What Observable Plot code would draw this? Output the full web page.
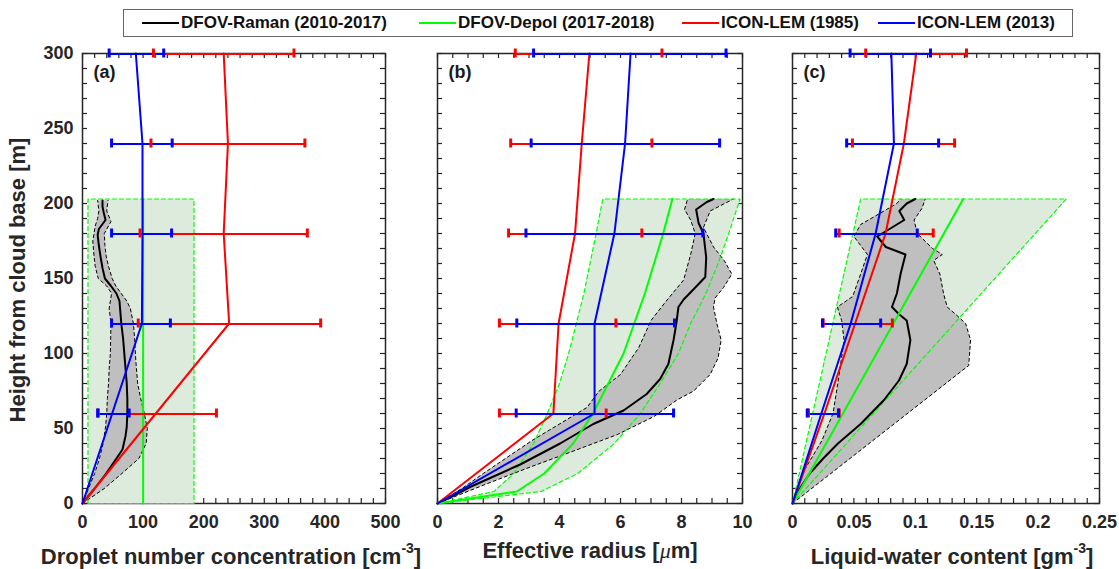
<!DOCTYPE html>
<html>
<head>
<meta charset="utf-8">
<script src="https://cdn.jsdelivr.net/npm/d3@7"></script>
<script src="https://cdn.jsdelivr.net/npm/@observablehq/plot@0.6"></script>
<style>
  body { margin: 0; background: #fff; }
  #fig { position: relative; width: 1119px; height: 569px; overflow: hidden;
         font-family: "Liberation Sans", Arial, Helvetica, sans-serif; font-weight: bold; color: #262626; }
  .legend { position: absolute; left: 123px; top: 9px; width: 950px; height: 28px; box-sizing: border-box;
            border: 1px solid #666; background: #fff; }
  .item { position: absolute; top: 0; height: 26px; display: flex; align-items: center;
          font-size: 17px; color: #111; white-space: nowrap; }
  .swatch { display: inline-block; width: 37px; height: 2px; margin-right: 2px; }
  .panel { position: absolute; top: 45px; }
  .xlabel { position: absolute; top: 538px; font-size: 22px; line-height: 26px; white-space: nowrap;
            transform: translateX(-50%); }
  .xlabel sup { font-size: 14px; position: relative; top: -3px; }
  .ylabel { position: absolute; left: 18px; top: 280px; font-size: 22px; white-space: nowrap;
            transform: translate(-50%, -50%) rotate(-90deg); }
</style>
</head>
<body>
<div id="fig">
  <div class="legend" id="legend"></div>
  <div class="panel" id="pa" style="left:0px"></div>
  <div class="panel" id="pb" style="left:420px"></div>
  <div class="panel" id="pc" style="left:770px"></div>
  <div class="ylabel">Height from cloud base [m]</div>
  <div class="xlabel" style="left:231px">Droplet number concentration [cm<sup>-3</sup>]</div>
  <div class="xlabel" style="left:590px">Effective radius [<i style="font-weight:normal;font-family:'Liberation Serif',serif">μ</i>m]</div>
  <div class="xlabel" style="left:952px">Liquid-water content [gm<sup>-3</sup>]</div>
</div>
<script>
// ---- Series names and colours ----
const seriesNames = ["DFOV-Raman (2010-2017)", "DFOV-Depol (2017-2018)", "ICON-LEM (1985)", "ICON-LEM (2013)"];
const seriesColors = ["#000000", "#00ff00", "#ff0000", "#0000ff"];
const legendLeft = [18, 295, 558, 754];

// ---- Axis ticks ----
const heightTicks = [0, 50, 100, 150, 200, 250, 300];
const ndTicks = [0, 100, 200, 300, 400, 500];
const reTicks = [0, 2, 4, 6, 8, 10];
const lwcTicks = [0, 0.05, 0.1, 0.15, 0.2, 0.25];

// ---- ICON-LEM model profiles (heights above cloud base, m) ----
const modelHeights = [0, 60, 120, 180, 240, 300];
const barHeights = [60, 120, 180, 240, 300];

const nd1985 = [0, 121, 242, 233, 240, 233];
const nd2013 = [0, 49, 98, 99, 99, 88];
const nd1985Lo = [26, 92, 95, 113, 117];
const nd1985Hi = [221, 393, 371, 367, 349];
const nd2013Lo = [25, 48, 48, 48, 44];
const nd2013Hi = [77, 145, 147, 148, 134];

const re1985 = [0, 3.8, 3.97, 4.51, 4.73, 4.98];
const re2013 = [0, 5.15, 5.15, 5.8, 6.15, 6.33];
const re1985Lo = [2.03, 2.03, 2.33, 2.4, 2.55];
const re1985Hi = [5.53, 5.85, 6.7, 7.03, 7.36];
const re2013Lo = [2.58, 2.6, 2.9, 3.07, 3.15];
const re2013Hi = [7.74, 7.77, 8.7, 9.25, 9.46];

const lwc1985 = [0, 0.026, 0.051, 0.0758, 0.0907, 0.1008];
const lwc2013 = [0, 0.0235, 0.0474, 0.0677, 0.0826, 0.0805];
const lwc1985Lo = [0.013, 0.025, 0.038, 0.0488, 0.0596];
const lwc1985Hi = [0.038, 0.0813, 0.1146, 0.132, 0.1417];
const lwc2013Lo = [0.012, 0.0244, 0.0352, 0.0441, 0.0469];
const lwc2013Hi = [0.0375, 0.0718, 0.1016, 0.119, 0.1124];

// ---- DFOV-Raman observations: mean and spread ----
const ndMeanH = [0, 10, 20, 30, 36, 45, 51, 60, 70, 80, 95, 110, 120, 135, 140, 145, 150, 157, 164, 172, 179, 183, 189, 194, 198, 202];
const ndMean  = [0, 20, 39, 56, 66, 71, 73, 74, 74, 73, 70, 67, 64, 61, 56, 47, 37, 33, 30, 27, 25, 27, 38, 35, 33, 33];
const ndLoH = [0, 10, 20, 30, 40, 51, 60, 70, 80, 90, 100, 120, 130, 135, 140, 145, 150, 158, 165, 175, 185, 190, 195, 202];
const ndLo  = [0, 10, 20, 28, 34, 38, 40, 41, 43, 44, 46, 47, 44, 46, 48, 40, 26, 21, 19, 17, 21, 25, 27, 25];
const ndHiH = [0, 10, 20, 30, 40, 50, 60, 70, 80, 95, 110, 120, 130, 135, 140, 145, 150, 158, 165, 172, 180, 188, 195, 202];
const ndHi  = [0, 36, 65, 93, 105, 107, 102, 96, 91, 88, 86, 84, 79, 73, 64, 55, 49, 43, 39, 37, 36, 47, 40, 42];

const reMeanH = [0, 5, 11, 26, 40, 53, 62, 73, 83, 93, 109, 120, 131, 136, 145, 151, 164, 180, 187, 196, 201, 203];
const reMean  = [0, 0.5, 1.07, 2.71, 4.02, 5.11, 6.10, 6.86, 7.30, 7.57, 7.74, 7.83, 7.90, 8.07, 8.50, 8.78, 8.81, 8.72, 8.56, 8.48, 8.83, 9.05];
const reLoH = [0, 10, 20, 31, 42, 53, 64, 75, 86, 95, 104, 113, 122, 135, 149, 166, 180, 189, 196, 203];
const reLo  = [0, 0.8, 1.5, 2.3, 3.1, 4.0, 4.9, 5.3, 6.0, 6.3, 6.6, 6.8, 7.0, 7.5, 8.07, 8.3, 8.45, 8.3, 8.1, 8.2];
const reHiH = [0, 13, 24, 35, 46, 58, 69, 75, 86, 97, 109, 120, 131, 137, 144, 153, 162, 171, 184, 195, 203];
const reHi  = [0, 1.6, 3.0, 4.46, 5.9, 7.1, 7.85, 8.4, 8.94, 9.2, 9.3, 9.16, 9.05, 9.1, 9.38, 9.65, 9.4, 9.05, 8.72, 8.94, 9.7];

const lwcMeanH = [0, 10, 20, 30, 40, 53, 69, 82, 93, 109, 122, 126, 131, 140, 153, 166, 171, 178, 182, 189, 195, 200, 203];
const lwcMean  = [0, 0.006, 0.014, 0.025, 0.037, 0.0555, 0.0745, 0.0867, 0.093, 0.096, 0.093, 0.087, 0.081, 0.085, 0.088, 0.092, 0.076, 0.069, 0.077, 0.091, 0.087, 0.093, 0.1];
const lwcLoH = [0, 20, 42, 60, 86, 109, 122, 131, 138, 153, 166, 178, 186, 195, 200, 203];
const lwcLo  = [0, 0.008, 0.024, 0.033, 0.038, 0.042, 0.04, 0.0366, 0.049, 0.0555, 0.061, 0.05, 0.0555, 0.0745, 0.085, 0.088];
const lwcHiH = [0, 92, 109, 120, 126, 131, 140, 153, 162, 166, 170, 180, 189, 197, 203];
const lwcHi  = [0, 0.1435, 0.145, 0.141, 0.133, 0.126, 0.123, 0.12, 0.115, 0.122, 0.114, 0.1016, 0.099, 0.1056, 0.108];

// ---- DFOV-Depol observations: mean and range ----
const depolNdH = [0, 203];
const depolNd = [100, 100];
const depolNdLo = [9, 9];
const depolNdHi = [184, 184];

const depolReH = [0, 8, 20, 40, 60, 80, 100, 120, 140, 160, 180, 203];
const depolRe = [0, 2.6, 3.5, 4.45, 5.1, 5.6, 6.1, 6.45, 6.8, 7.1, 7.4, 7.7];
const depolReLo = [0, 1.85, 2.5, 3.15, 3.6, 4.0, 4.3, 4.55, 4.8, 5.0, 5.2, 5.42];
const depolReHi = [0, 3.4, 4.6, 5.8, 6.65, 7.3, 7.9, 8.3, 8.8, 9.2, 9.55, 9.92];

const depolLwcH = [0, 203];
const depolLwc = [0, 0.139];
const depolLwcLo = [0, 0.0555];
const depolLwcHi = [0, 0.223];

// ---- helpers that turn the arrays into tables ----
const pts = (hs, xs) => hs.map((h, i) => ({h, x: xs[i]}));
const bars = (hs, lo, hi) => hs.map((h, i) => ({h, lo: lo[i], hi: hi[i]}));
// closed outline: lower edge upward, then upper edge downward
const band = (hLo, lo, hHi, hi) => [...pts(hLo, lo), ...pts(hHi, hi).reverse()];

// ---- legend ----
const legend = document.getElementById("legend");
seriesNames.forEach((name, i) => {
  const it = document.createElement("div");
  it.className = "item";
  it.style.left = legendLeft[i] + "px";
  it.innerHTML = `<span class="swatch" style="background:${seriesColors[i]}"></span>${name}`;
  legend.appendChild(it);
});

const heightMinor = d3.range(0, 301, 10);

function panel(cfg) {
  const plotH = cfg.height - cfg.marginTop - cfg.marginBottom;
  const plotW = cfg.width - cfg.marginLeft - cfg.marginRight;
  const tl = 5;
  const tk = {stroke: "#262626", strokeWidth: 1.2};
  const [black, green, red, blue] = seriesColors;
  const b85 = bars(barHeights, cfg.m1985Lo, cfg.m1985Hi);
  const b13 = bars(barHeights, cfg.m2013Lo, cfg.m2013Hi);
  const hbar = (data, color) =>
    Plot.ruleY(data, {y: "h", x1: "lo", x2: "hi", dy: 0.5, stroke: color, strokeWidth: 2});
  const caps = (data, color) => [
    Plot.ruleX(data, {x: "lo", y1: "h", y2: "h", insetTop: -4.5, insetBottom: -4.5, stroke: color, strokeWidth: 3}),
    Plot.ruleX(data, {x: "hi", y1: "h", y2: "h", insetTop: -4.5, insetBottom: -4.5, stroke: color, strokeWidth: 3})
  ];
  return Plot.plot({
    width: cfg.width,
    height: cfg.height,
    marginTop: cfg.marginTop,
    marginBottom: cfg.marginBottom,
    marginLeft: cfg.marginLeft,
    marginRight: cfg.marginRight,
    x: {domain: cfg.xDomain},
    y: {domain: [0, 300]},
    style: {fontFamily: '"Liberation Sans", Arial, Helvetica, sans-serif', fontSize: "18px",
            fontWeight: "bold", color: "#262626", background: "transparent", overflow: "visible"},
    marks: [
      // inward tick marks on all four sides
      Plot.tickX(cfg.xMinor, {x: d => d, insetTop: plotH - tl, ...tk}),
      Plot.tickX(cfg.xMinor, {x: d => d, insetBottom: plotH - tl, ...tk}),
      Plot.tickY(heightMinor, {y: d => d, insetRight: plotW - tl, ...tk}),
      Plot.tickY(heightMinor, {y: d => d, insetLeft: plotW - tl, ...tk}),
      Plot.frame({stroke: "#262626", strokeWidth: 1.5}),
      Plot.axisX({ticks: cfg.xTicks, tickSize: 0, tickPadding: 12, tickFormat: d => String(d), label: null, fontSize: 18}),
      cfg.yLabels
        ? Plot.axisY({ticks: heightTicks, tickSize: 0, tickPadding: 9, label: null, fontSize: 18})
        : Plot.axisY({ticks: [], tickSize: 0, label: null}),
      // DFOV-Depol range (shaded)
      Plot.line(band(cfg.depolH, cfg.depolLo, cfg.depolH, cfg.depolHi), {x: "x", y: "h", fill: "#dcebdc", stroke: "none"}),
      // DFOV-Raman spread
      Plot.line(band(cfg.loH, cfg.lo, cfg.hiH, cfg.hi), {x: "x", y: "h", fill: "#bfbfbf", stroke: "none"}),
      Plot.line(pts(cfg.loH, cfg.lo), {x: "x", y: "h", stroke: black, strokeWidth: 1, strokeDasharray: "3,3"}),
      Plot.line(pts(cfg.hiH, cfg.hi), {x: "x", y: "h", stroke: black, strokeWidth: 1, strokeDasharray: "3,3"}),
      // DFOV-Depol range outline
      Plot.line([...band(cfg.depolH, cfg.depolLo, cfg.depolH, cfg.depolHi), {h: cfg.depolH[0], x: cfg.depolLo[0]}],
                {x: "x", y: "h", stroke: green, strokeWidth: 1.2, strokeDasharray: "4,3"}),
      // observed mean profiles
      Plot.line(pts(cfg.meanH, cfg.mean), {x: "x", y: "h", stroke: black, strokeWidth: 2}),
      Plot.line(pts(cfg.depolH, cfg.depol), {x: "x", y: "h", stroke: green, strokeWidth: 2}),
      // ICON-LEM profiles with their spread
      Plot.line(pts(modelHeights, cfg.m1985), {x: "x", y: "h", stroke: red, strokeWidth: 2}),
      Plot.line(pts(modelHeights, cfg.m2013), {x: "x", y: "h", stroke: blue, strokeWidth: 2}),
      hbar(b85, red),
      hbar(b13, blue),
      ...caps(b85, red),
      ...caps(b13, blue),
      Plot.text([cfg.letter], {text: d => d, frameAnchor: "top-left", dx: 11, dy: 12, fontSize: 18, fontWeight: "bold", fill: "#1a1a1a"})
    ]
  });
}

document.getElementById("pa").appendChild(panel({
  width: 400, height: 524, marginTop: 8, marginBottom: 66, marginLeft: 82, marginRight: 15,
  xDomain: [0, 500], xTicks: ndTicks, xMinor: d3.range(0, 501, 20), yLabels: true, letter: "(a)",
  meanH: ndMeanH, mean: ndMean, loH: ndLoH, lo: ndLo, hiH: ndHiH, hi: ndHi,
  depolH: depolNdH, depol: depolNd, depolLo: depolNdLo, depolHi: depolNdHi,
  m1985: nd1985, m1985Lo: nd1985Lo, m1985Hi: nd1985Hi,
  m2013: nd2013, m2013Lo: nd2013Lo, m2013Hi: nd2013Hi
}));

document.getElementById("pb").appendChild(panel({
  width: 340, height: 524, marginTop: 8, marginBottom: 66, marginLeft: 17, marginRight: 18,
  xDomain: [0, 10], xTicks: reTicks, xMinor: d3.range(0, 10.01, 0.5), yLabels: false, letter: "(b)",
  meanH: reMeanH, mean: reMean, loH: reLoH, lo: reLo, hiH: reHiH, hi: reHi,
  depolH: depolReH, depol: depolRe, depolLo: depolReLo, depolHi: depolReHi,
  m1985: re1985, m1985Lo: re1985Lo, m1985Hi: re1985Hi,
  m2013: re2013, m2013Lo: re2013Lo, m2013Hi: re2013Hi
}));

document.getElementById("pc").appendChild(panel({
  width: 349, height: 524, marginTop: 8, marginBottom: 66, marginLeft: 22, marginRight: 20,
  xDomain: [0, 0.25], xTicks: lwcTicks, xMinor: d3.range(0, 0.2501, 0.01), yLabels: false, letter: "(c)",
  meanH: lwcMeanH, mean: lwcMean, loH: lwcLoH, lo: lwcLo, hiH: lwcHiH, hi: lwcHi,
  depolH: depolLwcH, depol: depolLwc, depolLo: depolLwcLo, depolHi: depolLwcHi,
  m1985: lwc1985, m1985Lo: lwc1985Lo, m1985Hi: lwc1985Hi,
  m2013: lwc2013, m2013Lo: lwc2013Lo, m2013Hi: lwc2013Hi
}));
</script>
</body>
</html>
